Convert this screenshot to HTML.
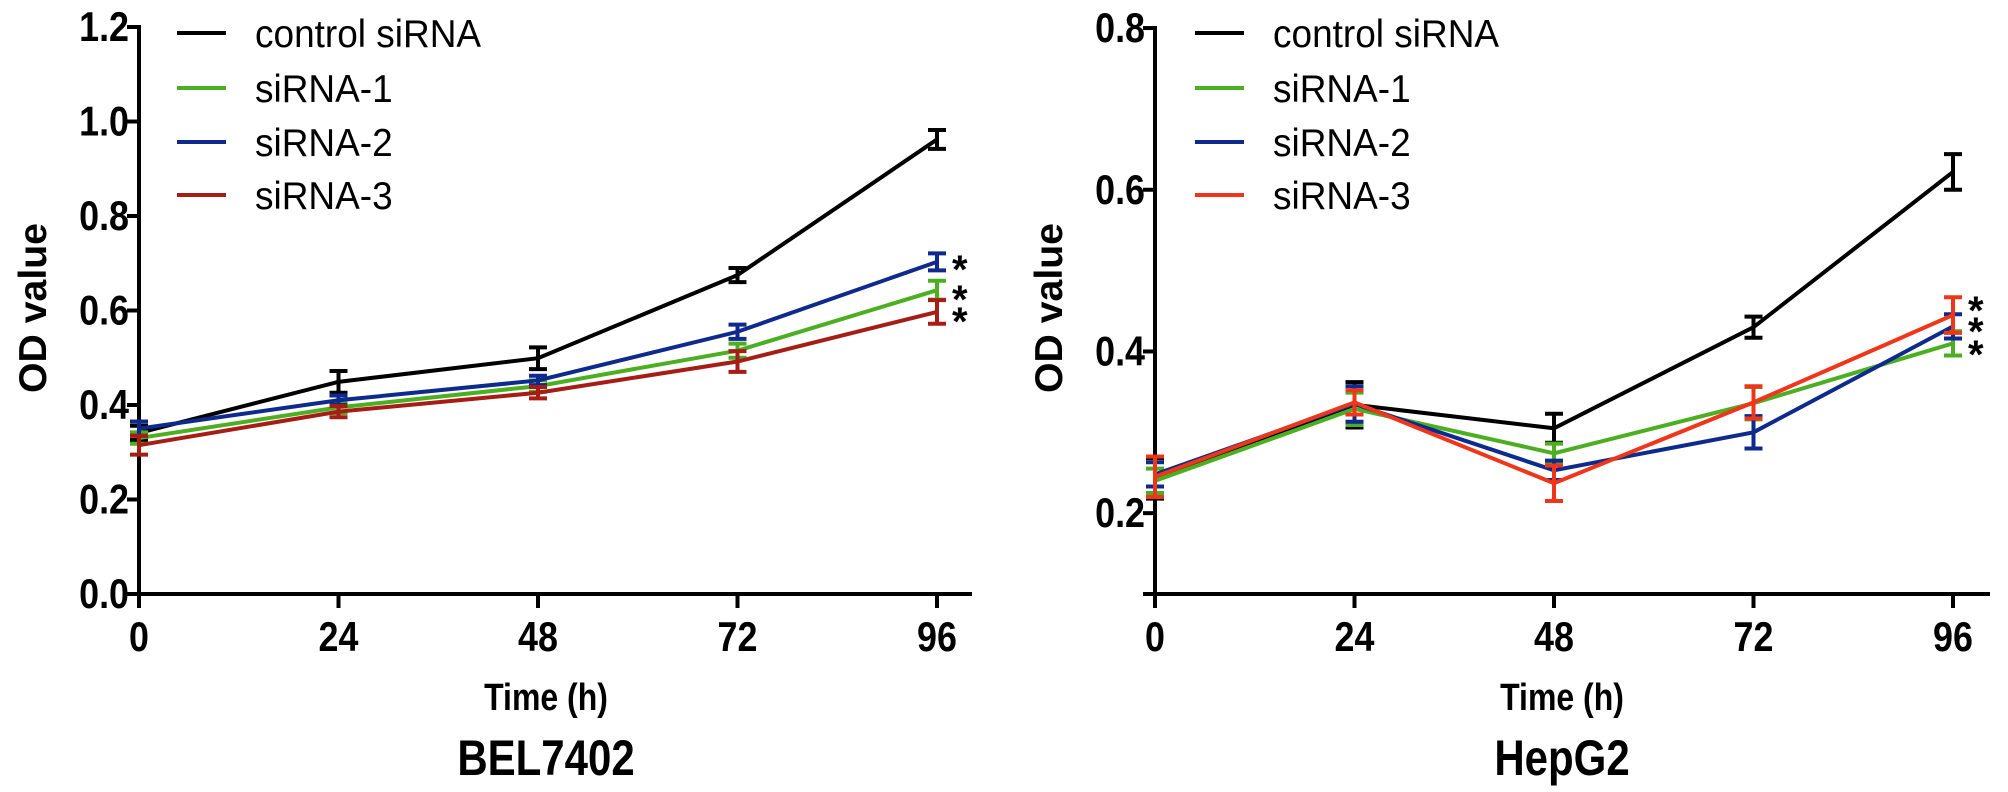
<!DOCTYPE html>
<html><head><meta charset="utf-8"><style>
html,body{margin:0;padding:0;background:#fff;}
svg{display:block;font-family:"Liberation Sans",Arial,sans-serif;}
</style></head><body>
<svg id="fig" width="2008" height="792" viewBox="0 0 2008 792" xmlns="http://www.w3.org/2000/svg"></svg>
<script>
// ---- data ----
const timeTicks = [0, 24, 48, 72, 96];
const seriesNames = ["control siRNA", "siRNA-1", "siRNA-2", "siRNA-3"];
// BEL7402
const belControl = [0.341, 0.449, 0.499, 0.675, 0.962];
const belSi1 = [0.330, 0.395, 0.440, 0.515, 0.643];
const belSi2 = [0.350, 0.410, 0.452, 0.555, 0.703];
const belSi3 = [0.315, 0.386, 0.426, 0.492, 0.597];
const belErrControl = [0.015, 0.023, 0.023, 0.015, 0.02];
const belErrSi1 = [0.012, 0.012, 0.012, 0.015, 0.02];
const belErrSi2 = [0.015, 0.01, 0.01, 0.015, 0.018];
const belErrSi3 = [0.02, 0.012, 0.012, 0.022, 0.025];
const belYTicks = ["0.0", "0.2", "0.4", "0.6", "0.8", "1.0", "1.2"];
// HepG2
const hepControl = [0.243, 0.334, 0.305, 0.430, 0.622];
const hepSi1 = [0.240, 0.329, 0.274, 0.336, 0.410];
const hepSi2 = [0.248, 0.335, 0.253, 0.300, 0.431];
const hepSi3 = [0.245, 0.337, 0.237, 0.337, 0.445];
const hepErrControl = [0.025, 0.028, 0.018, 0.013, 0.022];
const hepErrSi1 = [0.015, 0.02, 0.012, 0.02, 0.015];
const hepErrSi2 = [0.015, 0.022, 0.012, 0.02, 0.015];
const hepErrSi3 = [0.025, 0.015, 0.022, 0.02, 0.022];
const hepYTicks = ["0.2", "0.4", "0.6", "0.8"];

const NS = "http://www.w3.org/2000/svg";
const svg = document.getElementById("fig");
function mk(tag, attrs, parent, text) {
  const e = document.createElementNS(NS, tag);
  for (const k in attrs) e.setAttribute(k, attrs[k]);
  if (text !== undefined) e.textContent = text;
  (parent || svg).appendChild(e);
  return e;
}

function chart(cfg) {
  const g = mk("g", {});
  
  
  const xS = t => cfg.x0 + (t / 96) * (cfg.x96 - cfg.x0);
  const yS = v => cfg.yBase - (v - cfg.yMin) * cfg.pxPerUnit;
  // axes
  const ax = mk("g", {}, g);
  
  
  mk("line", {x1: cfg.x0, y1: yS(cfg.yMax) - 2, x2: cfg.x0, y2: cfg.yBase + 14, stroke: "#000", "stroke-width": 4}, ax);
  mk("line", {x1: cfg.x0 - 12, y1: cfg.yBase, x2: cfg.xEnd, y2: cfg.yBase, stroke: "#000", "stroke-width": 4}, ax);
  cfg.yTicks.forEach(lbl => {
    const y = yS(parseFloat(lbl));
    mk("line", {x1: cfg.x0 - 12, y1: y, x2: cfg.x0, y2: y, stroke: "#000", "stroke-width": 4}, ax);
    const t = mk("text", {x: 0, y: 0, transform: `translate(${cfg.x0 - 10},${y + 14}) scale(0.92,1.08)`, "text-anchor": "end", "font-size": 39, "font-weight": "bold"}, ax, lbl);
    
    
  });
  timeTicks.forEach(tk => {
    const x = xS(tk);
    mk("line", {x1: x, y1: cfg.yBase, x2: x, y2: cfg.yBase + 14, stroke: "#000", "stroke-width": 4}, ax);
    const t = mk("text", {x: 0, y: 0, transform: `translate(${x},${651}) scale(0.92,1.08)`, "text-anchor": "middle", "font-size": 39, "font-weight": "bold"}, ax, String(tk));
    
    
  });
  const cx = (cfg.x0 + cfg.x96) / 2 + 8;
  const xt = mk("text", {x: 0, y: 0, transform: `translate(${cx},710) scale(1,1.2)`, "text-anchor": "middle", "font-size": 32, "font-weight": "bold"}, g, "Time (h)");
  
  
  const yt = mk("text", {x: 0, y: 0, transform: `translate(${cfg.yTitleX},308) rotate(-90) scale(1.12,1.1)`, "text-anchor": "middle", "font-size": 35, "font-weight": "bold"}, g, "OD value");
  
  
  const ct = mk("text", {x: 0, y: 0, transform: `translate(${cx},775) scale(1,1.2)`, "text-anchor": "middle", "font-size": 42, "font-weight": "bold"}, g, cfg.title);
  
  
  // series
  cfg.series.forEach((s, i) => {
    const sg = mk("g", {}, g);
    
    
    const pts = s.vals.map((v, j) => xS(timeTicks[j]) + "," + yS(v)).join(" ");
    const pl = mk("polyline", {points: pts, fill: "none", stroke: cfg.colors[i], "stroke-width": 4, "stroke-linejoin": "miter"}, sg);
    
    
    s.vals.forEach((v, j) => {
      const x = xS(timeTicks[j]);
      const e = s.err[j];
      const eb = mk("path", {d: `M${x - 9},${yS(v + e)}H${x + 9}M${x},${yS(v + e)}V${yS(v - e)}M${x - 9},${yS(v - e)}H${x + 9}`, stroke: cfg.colors[i], "stroke-width": 4, fill: "none"}, sg);
      
      
    });
  });
  // asterisks
  cfg.stars.forEach(y => {
    const a = mk("text", {x: cfg.starX, y: y + 21, "font-size": 40, "font-weight": "bold"}, g, "*");
    
    
  });
  // legend
  const lg = mk("g", {}, g);
  
  
  const rows = [33, 88, 142, 195];
  seriesNames.forEach((n, i) => {
    const eg = mk("g", {}, lg);
    
    
    mk("line", {x1: cfg.legX, y1: rows[i], x2: cfg.legX + 49, y2: rows[i], stroke: cfg.colors[i], "stroke-width": 4}, eg);
    mk("text", {x: 0, y: 0, transform: `translate(${cfg.legX + 78},${rows[i] + 14}) scale(1,1.05)`, "font-size": 37}, eg, n);
  });
}

chart({id: "bel7402", title: "BEL7402", x0: 139, x96: 937, xEnd: 972, yBase: 594, yMin: 0, yMax: 1.2, pxPerUnit: 472.5,
  yTicks: belYTicks, yTitleX: 46, legX: 177, starX: 952, stars: [262, 292, 314],
  colors: ["#000000", "#4caf22", "#0d2a8c", "#a51d14"],
  series: [{vals: belControl, err: belErrControl}, {vals: belSi1, err: belErrSi1}, {vals: belSi2, err: belErrSi2}, {vals: belSi3, err: belErrSi3}]});
chart({id: "hepg2", title: "HepG2", x0: 1155, x96: 1953, xEnd: 1990, yBase: 594, yMin: 0.1, yMax: 0.8, pxPerUnit: 808.5,
  yTicks: hepYTicks, yTitleX: 1062, legX: 1195, starX: 1968, stars: [303, 324, 347],
  colors: ["#000000", "#4caf22", "#0d2a8c", "#f0361a"],
  series: [{vals: hepControl, err: hepErrControl}, {vals: hepSi1, err: hepErrSi1}, {vals: hepSi2, err: hepErrSi2}, {vals: hepSi3, err: hepErrSi3}]});
</script>
</body></html>
